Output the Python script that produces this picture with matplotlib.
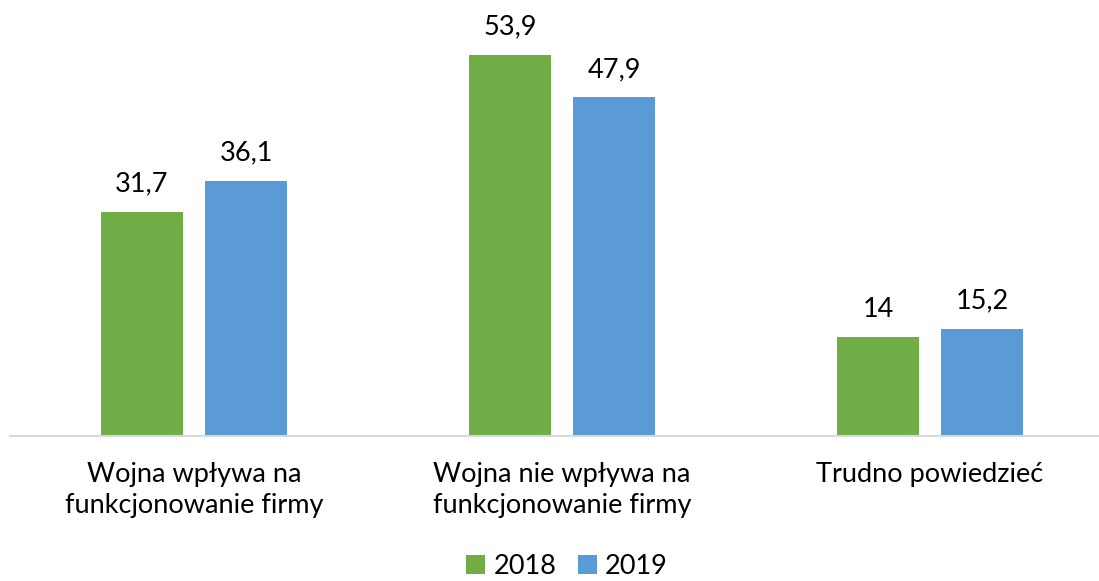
import numpy as np
import matplotlib
matplotlib.use("Agg")
import matplotlib.pyplot as plt

categories = ["Wojna wpływa na\nfunkcjonowanie firmy",
              "Wojna nie wpływa na\nfunkcjonowanie firmy",
              "Trudno powiedzieć"]
series_names = ["2018", "2019"]
values_2018 = [31.7, 53.9, 14]
values_2019 = [36.1, 47.9, 15.2]

GREEN = "#70AD47"
BLUE = "#5B9BD5"
FONT = ["Lato", "DejaVu Sans"]
FS = 19.5


def fmt(v):
    s = f"{v:g}"
    return s.replace(".", ",")


def main() -> None:
    plt.rcParams["font.family"] = FONT
    W, H = 1099, 581
    fig = plt.figure(figsize=(W / 100, H / 100), dpi=100)

    # axes in pixel geometry: left 10, baseline at y=436 from top
    left, right = 10, 1099
    bottom, top = H - 436, H
    ax = fig.add_axes([left / W, bottom / H, (right - left) / W, (top - bottom) / H])

    spacing = 368.0
    ax.set_xlim(-0.5, -0.5 + (right - left) / spacing)
    ax.set_ylim(0, 436 / 7.07)

    x = np.arange(len(categories))
    width = 82 / spacing
    off = 52 / spacing
    b1 = ax.bar(x - off, values_2018, width, color=GREEN, label=series_names[0])
    b2 = ax.bar(x + off, values_2019, width, color=BLUE, label=series_names[1])

    for bars, vals in ((b1, values_2018), (b2, values_2019)):
        for rect, v in zip(bars, vals):
            ax.annotate(fmt(v), (rect.get_x() + rect.get_width() / 2, v),
                        xytext=(0, 11), textcoords="offset points",
                        ha="center", va="bottom", fontsize=FS, color="black")

    for s in ("top", "right", "left"):
        ax.spines[s].set_visible(False)
    ax.spines["bottom"].set_color("#D9D9D9")
    ax.spines["bottom"].set_linewidth(1.5)
    ax.set_yticks([])
    ax.set_xticks(x)
    ax.set_xticklabels(categories, fontsize=FS, linespacing=1.3)
    ax.tick_params(axis="x", length=0, pad=19)

    fig.legend(handles=[b1, b2], labels=series_names, loc="center",
               bbox_to_anchor=(567 / W, (H - 566) / H), ncol=2, frameon=False,
               fontsize=FS, handlelength=0.7, handleheight=0.7,
               handletextpad=0.3, columnspacing=0.8, borderpad=0.2)

    fig.savefig("out.png", dpi=100)
    plt.close(fig)


if __name__ == "__main__":
    main()
